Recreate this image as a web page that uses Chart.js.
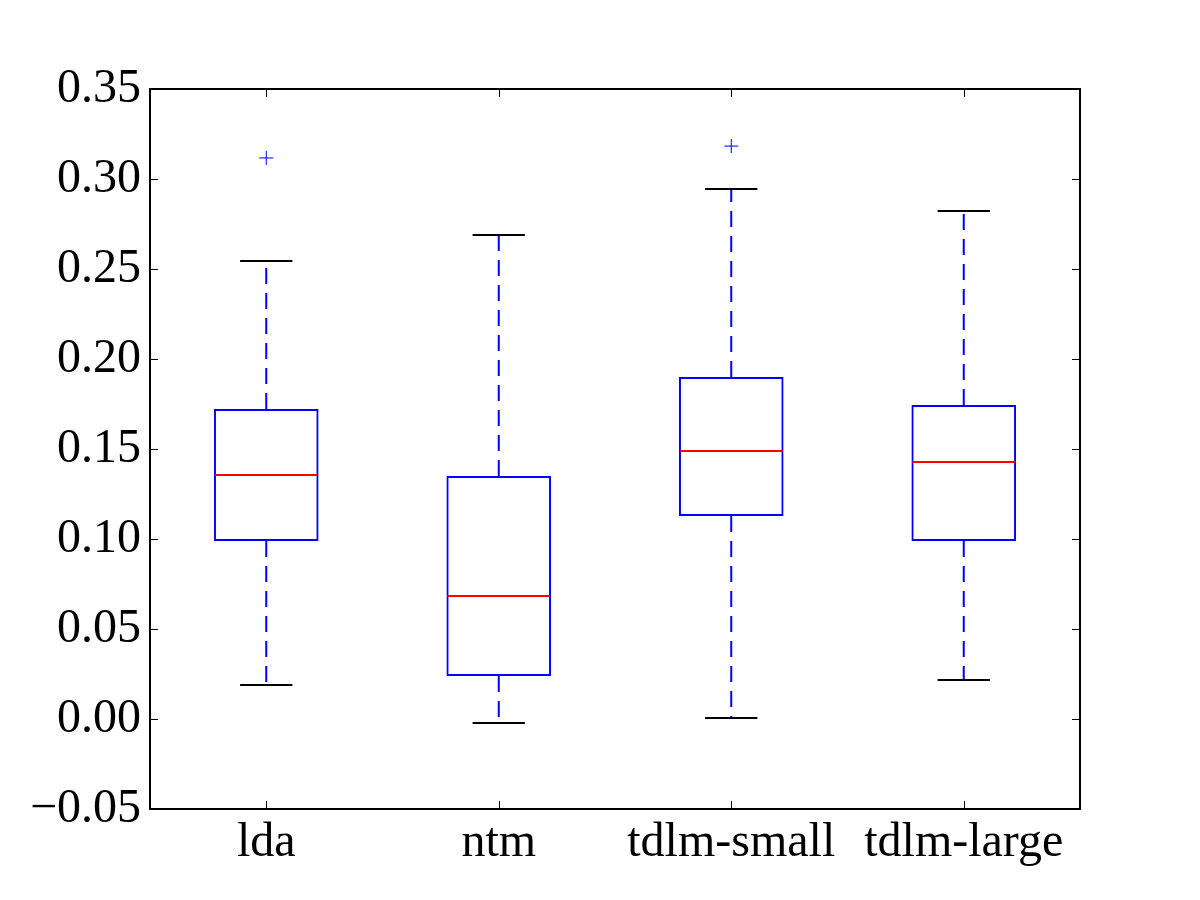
<!DOCTYPE html>
<html>
<head>
<meta charset="utf-8">
<script src="https://cdn.jsdelivr.net/npm/chart.js@4/dist/chart.umd.min.js"></script>
<style>
  html, body { margin: 0; padding: 0; background: #fff; }
  #wrap { width: 1200px; height: 900px; }
</style>
</head>
<body>
<div id="wrap"><canvas id="boxChart" width="1200" height="900"></canvas></div>
<script>
// Datos
const categorias = ["lda", "ntm", "tdlm-small", "tdlm-large"];
const bigoteMin = [0.0189, -0.0022, 0.0006, 0.0217];
const cuartil1 = [0.0989, 0.0239, 0.1128, 0.0989];
const mediana = [0.1356, 0.0683, 0.1489, 0.1428];
const cuartil3 = [0.1722, 0.1350, 0.1900, 0.1744];
const bigoteMax = [0.2544, 0.2689, 0.2944, 0.2822];
const atipicos = [0.3117, null, 0.3183, null];
const ticksY = [-0.05, 0.00, 0.05, 0.10, 0.15, 0.20, 0.25, 0.30, 0.35];

const fuente = "'Liberation Serif', 'DejaVu Serif', serif";

// Bigotes, topes, medianas, marco y marcas hacia dentro
const partesCaja = {
    id: "partesCaja",
    afterDatasetsDraw(chart) {
        const { ctx, chartArea: area, scales: { x, y } } = chart;
        const meta = chart.getDatasetMeta(0);
        ctx.save();
        categorias.forEach((cat, i) => {
            const bar = meta.data[i];
            const cx = x.getPixelForValue(i);
            const medio = bar.width / 2;
            const tope = bar.width / 4;

            // bigotes discontinuos
            ctx.strokeStyle = "#0000ff";
            ctx.lineWidth = 2;
            ctx.setLineDash([16, 9]);
            ctx.beginPath();
            ctx.moveTo(cx, y.getPixelForValue(cuartil3[i]));
            ctx.lineTo(cx, y.getPixelForValue(bigoteMax[i]));
            ctx.moveTo(cx, y.getPixelForValue(cuartil1[i]));
            ctx.lineTo(cx, y.getPixelForValue(bigoteMin[i]));
            ctx.stroke();
            ctx.setLineDash([]);

            // topes negros
            ctx.strokeStyle = "#000";
            ctx.beginPath();
            [bigoteMax[i], bigoteMin[i]].forEach(v => {
                const py = y.getPixelForValue(v);
                ctx.moveTo(cx - tope, py);
                ctx.lineTo(cx + tope, py);
            });
            ctx.stroke();

            // mediana
            ctx.strokeStyle = "#ff0000";
            ctx.beginPath();
            const pm = y.getPixelForValue(mediana[i]);
            ctx.moveTo(cx - medio + 1, pm);
            ctx.lineTo(cx + medio - 1, pm);
            ctx.stroke();
        });

        // marcas de los ejes (hacia dentro, en los cuatro lados)
        ctx.strokeStyle = "#000";
        ctx.lineWidth = 1;
        ctx.beginPath();
        ticksY.forEach(v => {
            const py = Math.round(y.getPixelForValue(v)) + 0.5;
            ctx.moveTo(area.left, py);
            ctx.lineTo(area.left + 8, py);
            ctx.moveTo(area.right, py);
            ctx.lineTo(area.right - 8, py);
        });
        categorias.forEach((cat, i) => {
            const px = Math.round(x.getPixelForValue(i)) + 0.5;
            ctx.moveTo(px, area.bottom);
            ctx.lineTo(px, area.bottom - 8);
            ctx.moveTo(px, area.top);
            ctx.lineTo(px, area.top + 8);
        });
        ctx.stroke();

        // marco
        ctx.lineWidth = 2;
        ctx.strokeRect(area.left, area.top, area.right - area.left, area.bottom - area.top);
        ctx.restore();
    }
};

const ctx = document.getElementById("boxChart").getContext("2d");
const boxChart = new Chart(ctx, {
    type: "bar",
    data: {
        labels: categorias,
        datasets: [
            {
                label: "caja",
                data: cuartil1.map((q, i) => [q, cuartil3[i]]),
                backgroundColor: "rgba(0,0,0,0)",
                borderColor: "#0000ff",
                borderWidth: 2,
                borderSkipped: false,
                categoryPercentage: 1,
                barPercentage: 0.45
            },
            {
                type: "line",
                label: "atípicos",
                data: atipicos,
                showLine: false,
                pointStyle: "cross",
                pointRadius: 7,
                pointBorderWidth: 1,
                borderColor: "#0000ff",
                backgroundColor: "#0000ff"
            }
        ]
    },
    options: {
        responsive: false,
        animation: false,
        layout: { padding: { top: 89, right: 120, left: 0, bottom: 0 } },
        plugins: {
            legend: { display: false },
            tooltip: { enabled: false }
        },
        scales: {
            x: {
                offset: true,
                grid: { display: false, drawTicks: false },
                border: { display: false },
                ticks: {
                    color: "#000",
                    padding: 6,
                    font: { family: fuente, size: 48 }
                },
                afterFit: s => { s.height = 91; }
            },
            y: {
                min: -0.05,
                max: 0.35,
                grid: { display: false, drawTicks: false },
                border: { display: false },
                afterBuildTicks: s => { s.ticks = ticksY.map(v => ({ value: v })); },
                ticks: {
                    color: "#000",
                    padding: 9,
                    font: { family: fuente, size: 48 },
                    callback: v => Number(v).toFixed(2).replace("-", "\u2212")
                },
                afterFit: s => { s.width = 150; }
            }
        }
    },
    plugins: [partesCaja]
});
</script>
</body>
</html>
